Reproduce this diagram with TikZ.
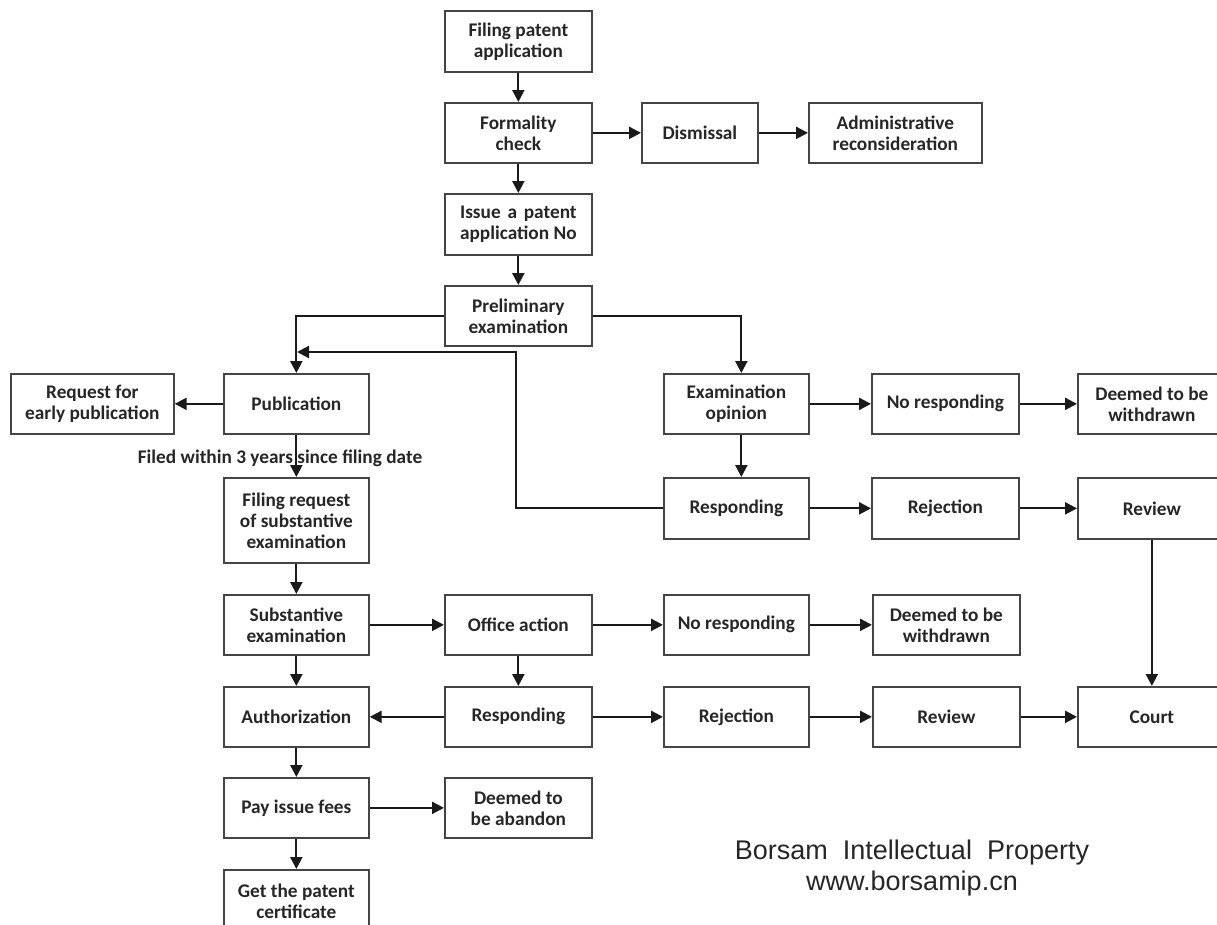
\documentclass[tikz,border=0pt]{standalone}
\usepackage{fontspec}
\setmainfont{Carlito}
\newfontfamily\wmfont{Liberation Sans}
\usepackage{calc}
\usetikzlibrary{arrows.meta}
\definecolor{boxc}{HTML}{444444}
\definecolor{linec}{HTML}{1A1A1A}
\definecolor{txtc}{HTML}{262626}
\definecolor{wmc}{HTML}{262626}
\tikzset{
  box/.style={draw=boxc, line width=1.7pt, align=center, inner sep=0pt,
    font=\bfseries\fontsize{19.3}{21}\selectfont, text=txtc},
  arr/.style={draw=linec, line width=2.2pt, -{Triangle[length=12pt,width=12pt]}},
  lbl/.style={font=\bfseries\fontsize{19.3}{21}\selectfont, text=txtc, inner sep=0pt},
  wm/.style={font=\wmfont\fontsize{27}{31}\selectfont, text=wmc, align=center, inner sep=0pt}
}
\newcommand\bx[6]{\node[box, anchor=north west, minimum width=#4pt, minimum height=#5pt] (#1) at (#2,-#3) {#6};}
\begin{document}
\begin{tikzpicture}[x=1pt,y=1pt]
\useasboundingbox (0,0) rectangle (1217,-924);
% column C
\bx{filing}{444}{10}{147}{61}{Filing patent\\application}
\bx{formal}{444}{102}{147}{60}{Formality\\check}
\bx{dismiss}{641}{102}{116}{60}{Dismissal}
\bx{admin}{808}{102}{173}{60}{Administrative\\reconsideration}
\bx{issue}{444}{193}{147}{61}{\makebox[\widthof{application No}][s]{Issue a patent}\\application No}
\bx{prelim}{444}{285}{147}{60}{Preliminary\\examination}
% row publication
\bx{early}{10}{373}{163}{60}{Request for\\early publication}
\bx{pub}{223}{373}{145}{60}{Publication}
\bx{exam}{663}{373}{145}{60}{Examination\\opinion}
\bx{nor1}{871}{373}{147}{60}{No responding}
\bx{wd1}{1077}{373}{148}{60}{Deemed to be\\withdrawn}
% row responding 1
\bx{freq}{223}{477}{145}{85}{Filing request\\of substantive\\examination}
\bx{resp1}{663}{477}{145}{61}{Responding}
\bx{rej1}{871}{477}{147}{61}{Rejection}
\bx{rev1}{1077}{477}{148}{61}{Review}
% row substantive
\bx{subst}{223}{594}{145}{60}{Substantive\\examination}
\bx{office}{444}{594}{147}{60}{Office action}
\bx{nor2}{663}{594}{145}{60}{No responding}
\bx{wd2}{872}{594}{147}{60}{Deemed to be\\withdrawn}
% row authorization
\bx{auth}{223}{686}{145}{60}{Authorization}
\bx{resp2}{444}{686}{147}{60}{Responding}
\bx{rej2}{663}{686}{145}{60}{Rejection}
\bx{rev2}{872}{686}{147}{60}{Review}
\bx{court}{1077}{686}{148}{60}{Court}
% bottom rows
\bx{pay}{223}{777}{145}{60}{Pay issue fees}
\bx{aband}{444}{777}{147}{60}{Deemed to\\be abandon}
\bx{cert}{223}{869}{145}{62}{Get the patent\\certificate}
% label
\node[lbl] (filedlbl) at (280,-458) {Filed within 3 years since filing date};
% watermark
\node[wm] (wmark) at (912,-868) {Borsam\ \ Intellectual\ \ Property\\www.borsamip.cn};
% connectors
\coordinate (turn) at (516,-352);
\coordinate (merge) at (297,-352);
\draw[arr] (filing) -- (formal);
\draw[arr] (formal) -- (dismiss);
\draw[arr] (dismiss) -- (admin);
\draw[arr] (formal) -- (issue);
\draw[arr] (issue) -- (prelim);
\draw[arr] (prelim.west) -| (pub.north);
\draw[arr] (prelim.east) -| ([xshift=5pt]exam.north);
\draw[arr] (resp1.west) -| (turn) -- (merge);
\draw[arr] (pub) -- (early);
\draw[arr] (pub) -- (freq);
\draw[arr] (freq) -- (subst);
\draw[arr] (subst) -- (office);
\draw[arr] (subst) -- (auth);
\draw[arr] (office) -- (nor2);
\draw[arr] (nor2) -- (wd2);
\draw[arr] (office) -- (resp2);
\draw[arr] (resp2) -- (auth);
\draw[arr] (resp2) -- (rej2);
\draw[arr] (rej2) -- (rev2);
\draw[arr] (rev2) -- (court);
\draw[arr] (exam) -- (nor1);
\draw[arr] (nor1) -- (wd1);
\draw[arr] ([xshift=5pt]exam.south) -- ([xshift=5pt]resp1.north);
\draw[arr] (resp1) -- (rej1);
\draw[arr] (rej1) -- (rev1);
\draw[arr] (rev1) -- (court);
\draw[arr] (auth) -- (pay);
\draw[arr] (pay) -- (aband);
\draw[arr] (pay) -- (cert);
\end{tikzpicture}
\end{document}
